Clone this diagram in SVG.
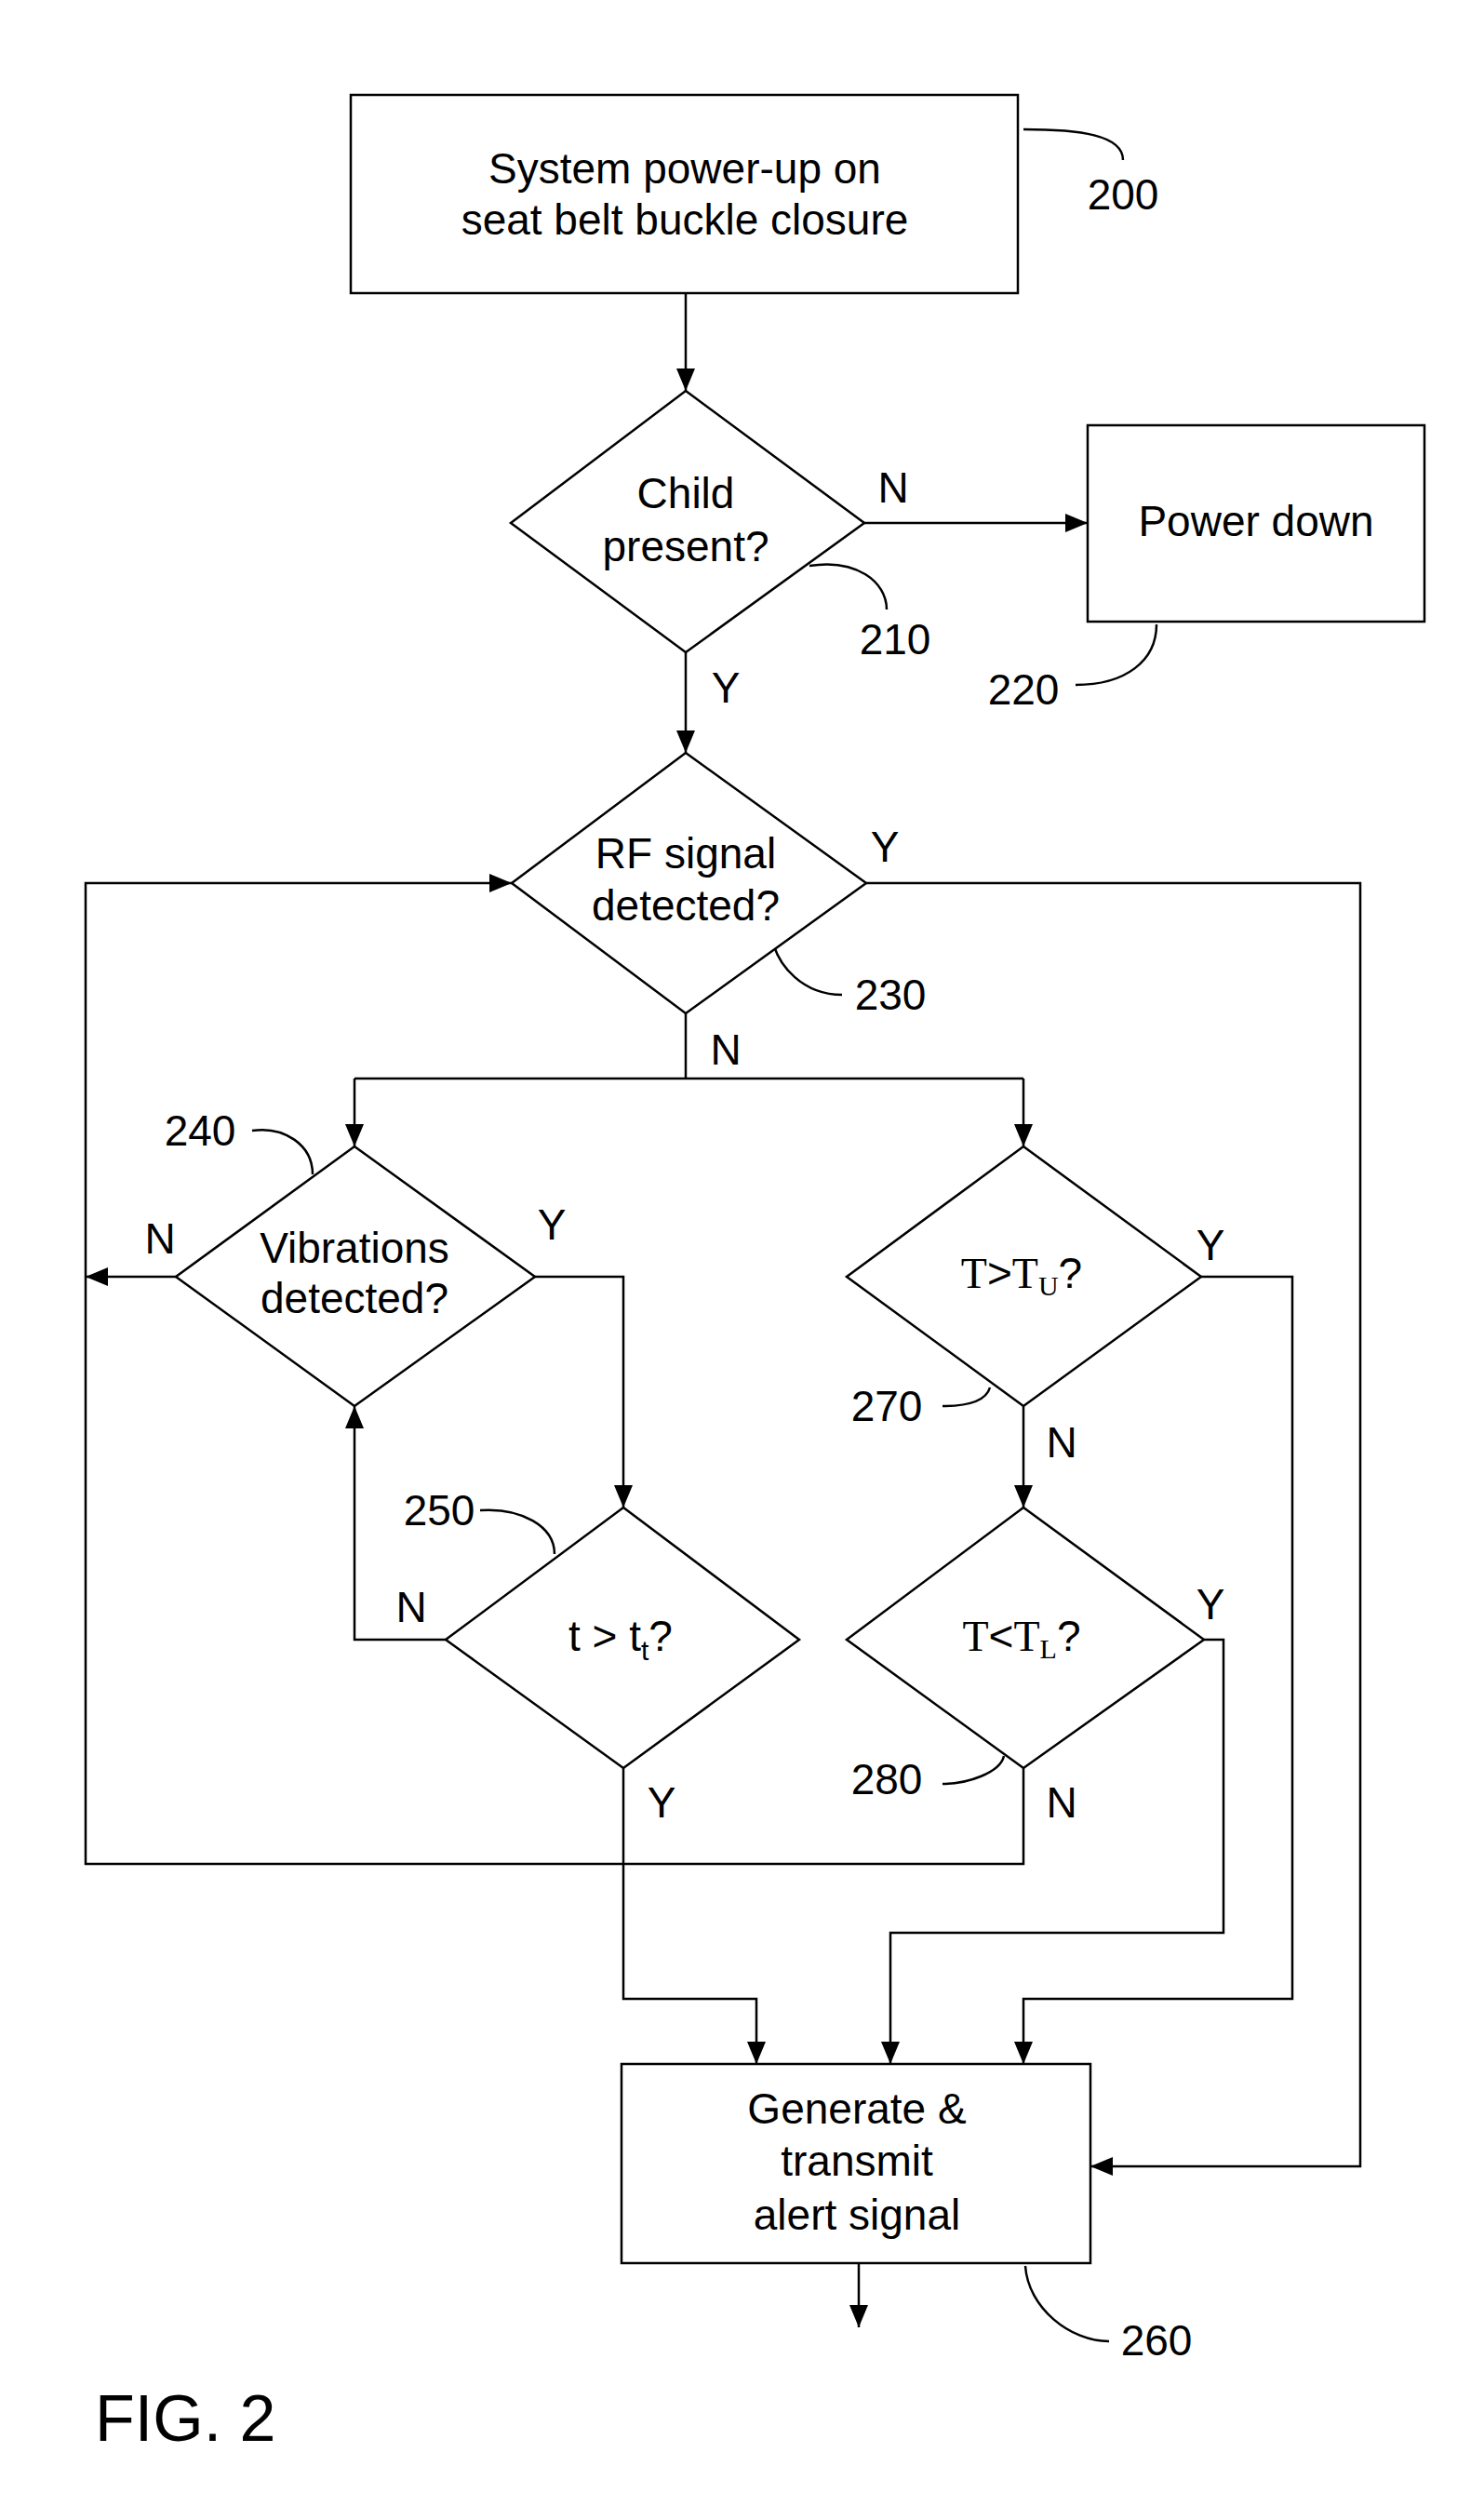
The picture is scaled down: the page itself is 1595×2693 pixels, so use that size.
<svg xmlns="http://www.w3.org/2000/svg" width="1595" height="2693" viewBox="0 0 1595 2693">
<style>
.s{fill:none;stroke:#000;stroke-width:2.5}
.n{fill:#fff;stroke:#000;stroke-width:2.5}
text{font-family:"Liberation Sans",Arial,sans-serif;font-size:46px;fill:#000;text-anchor:middle}
.tm{font-family:"Liberation Serif","Times New Roman",serif}
.sub{font-size:30px}
.fig{font-size:70px;text-anchor:start}
</style>
<defs>
<marker id="a" markerUnits="userSpaceOnUse" markerWidth="26" markerHeight="20" refX="24" refY="10" orient="auto"><path d="M0,0 L24,10 L0,20 Z" fill="#000"/></marker>
</defs>
<g id="connectors">
<path class="s" d="M737,315 V420" marker-end="url(#a)"/>
<path class="s" d="M929,562 H1169" marker-end="url(#a)"/>
<path class="s" d="M737,701 V809" marker-end="url(#a)"/>
<path class="s" d="M931,949 H1462 V2328 H1172" marker-end="url(#a)"/>
<path class="s" d="M737,1089 V1159"/>
<path class="s" d="M381,1159 H1100"/>
<path class="s" d="M381,1159 V1232" marker-end="url(#a)"/>
<path class="s" d="M1100,1159 V1232" marker-end="url(#a)"/>
<path class="s" d="M189,1372 H92" marker-end="url(#a)"/>
<path class="s" d="M575,1372 H670 V1620" marker-end="url(#a)"/>
<path class="s" d="M479,1762 H381 V1511" marker-end="url(#a)"/>
<path class="s" d="M670,1900 V2148 H813 V2218" marker-end="url(#a)"/>
<path class="s" d="M1100,1511 V1620" marker-end="url(#a)"/>
<path class="s" d="M1291,1372 H1389 V2148 H1100 V2218" marker-end="url(#a)"/>
<path class="s" d="M1294,1762 H1315 V2077 H957 V2218" marker-end="url(#a)"/>
<path class="s" d="M1100,1900 V2003 H92 V949 H550" marker-end="url(#a)"/>
<path class="s" d="M923,2432 V2501" marker-end="url(#a)"/>
<path class="s" d="M1100,139 C1160,139 1207,145 1207,172"/>
<path class="s" d="M870,608 C920,600 953,625 953,655"/>
<path class="s" d="M1156,736 C1210,736 1243,710 1243,671"/>
<path class="s" d="M829,1005 C835,1040 865,1069 905,1069"/>
<path class="s" d="M271,1215 C305,1210 336,1230 336,1262"/>
<path class="s" d="M516,1623 C560,1620 596,1640 596,1670"/>
<path class="s" d="M1013,1511 C1040,1511 1060,1505 1064,1491"/>
<path class="s" d="M1013,1917 C1040,1917 1075,1905 1079,1887"/>
<path class="s" d="M1102,2435 C1105,2480 1150,2516 1192,2516"/>
</g>
<g id="n200"><rect class="n" x="377" y="102" width="717" height="213"/><text x="736" y="197">System power-up on</text><text x="736" y="252">seat belt buckle closure</text><text x="1207" y="225">200</text></g>
<g id="n210"><path class="n" d="M737,420 L929,562 L737,701 L549,562 Z"/><text x="737" y="546">Child</text><text x="737" y="603">present?</text><text x="962" y="703">210</text><text x="960" y="540">N</text><text x="780" y="755">Y</text></g>
<g id="n220"><rect class="n" x="1169" y="457" width="362" height="211"/><text x="1350" y="576">Power down</text><text x="1100" y="757">220</text></g>
<g id="n230"><path class="n" d="M737,809 L931,949 L737,1089 L550,949 Z"/><text x="737" y="933">RF signal</text><text x="737" y="989">detected?</text><text x="957" y="1085">230</text><text x="951" y="926">Y</text><text x="780" y="1144">N</text></g>
<g id="n240"><path class="n" d="M381,1232 L575,1372 L381,1511 L189,1372 Z"/><text x="381" y="1357">Vibrations</text><text x="381" y="1411">detected?</text><text x="215" y="1231">240</text><text x="172" y="1347">N</text><text x="593" y="1332">Y</text></g>
<g id="n250"><path class="n" d="M670,1620 L859,1762 L670,1900 L479,1762 Z"/><text x="667" y="1774">t &gt; t<tspan class="sub" dy="10">t</tspan><tspan dy="-10">?</tspan></text><text x="472" y="1639">250</text><text x="442" y="1743">N</text><text x="711" y="1953">Y</text></g>
<g id="n270"><path class="n" d="M1100,1232 L1291,1372 L1100,1511 L910,1372 Z"/><text x="1098" y="1384"><tspan class="tm">T</tspan>&gt;<tspan class="tm">T</tspan><tspan class="tm sub" dy="8">U</tspan><tspan dy="-8">?</tspan></text><text x="953" y="1527">270</text><text x="1301" y="1354">Y</text><text x="1141" y="1566">N</text></g>
<g id="n280"><path class="n" d="M1100,1620 L1294,1762 L1100,1900 L910,1762 Z"/><text x="1098" y="1774"><tspan class="tm">T</tspan>&lt;<tspan class="tm">T</tspan><tspan class="tm sub" dy="8">L</tspan><tspan dy="-8">?</tspan></text><text x="953" y="1928">280</text><text x="1301" y="1740">Y</text><text x="1141" y="1953">N</text></g>
<g id="n260"><rect class="n" x="668" y="2218" width="504" height="214"/><text x="921" y="2282">Generate &amp;</text><text x="921" y="2338">transmit</text><text x="921" y="2396">alert signal</text><text x="1243" y="2531">260</text></g>
<text class="fig" x="102" y="2623">FIG. 2</text>
</svg>
